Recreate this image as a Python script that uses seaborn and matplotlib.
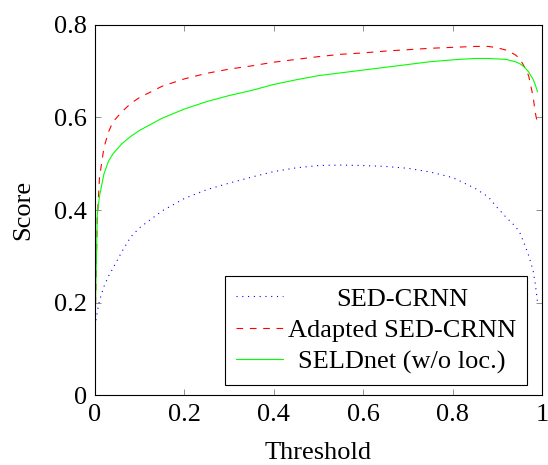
import numpy as np
import pandas as pd
import seaborn as sns
import matplotlib.pyplot as plt

# values
threshold = [0.0, 0.005, 0.01, 0.02, 0.03, 0.04, 0.06, 0.08, 0.1, 0.15, 0.2, 0.25,
             0.3, 0.35, 0.4, 0.45, 0.5, 0.55, 0.6, 0.65, 0.7, 0.75, 0.8, 0.85,
             0.88, 0.9, 0.92, 0.94, 0.95, 0.96, 0.97, 0.98, 0.985, 0.99]
sed_crnn = [0.15, 0.18, 0.205, 0.235, 0.257, 0.274, 0.31, 0.342, 0.362, 0.398, 0.425, 0.444,
            0.458, 0.471, 0.483, 0.491, 0.496, 0.497, 0.496, 0.494, 0.49, 0.482, 0.47, 0.447,
            0.428, 0.405, 0.384, 0.365, 0.352, 0.328, 0.302, 0.27, 0.24, 0.2]
adapted = [0.14, 0.38, 0.47, 0.535, 0.568, 0.59, 0.612, 0.63, 0.643, 0.667, 0.683, 0.695,
           0.704, 0.711, 0.719, 0.725, 0.731, 0.736, 0.739, 0.743, 0.746, 0.749, 0.751, 0.753,
           0.753, 0.75, 0.745, 0.735, 0.727, 0.71, 0.69, 0.645, 0.61, 0.585]
seldnet = [0.14, 0.39, 0.43, 0.478, 0.505, 0.521, 0.543, 0.559, 0.572, 0.598, 0.618, 0.634,
           0.647, 0.658, 0.671, 0.681, 0.69, 0.696, 0.702, 0.708, 0.714, 0.72, 0.724, 0.727,
           0.727, 0.726, 0.725, 0.72, 0.716, 0.709, 0.698, 0.682, 0.67, 0.655]
names = ['SED-CRNN', 'Adapted SED-CRNN', 'SELDnet (w/o loc.)']

df = pd.concat([
    pd.DataFrame({'Threshold': threshold, 'Score': vals, 'Model': name})
    for name, vals in zip(names, [sed_crnn, adapted, seldnet])
])

sns.set_style('ticks')
plt.rcParams['font.family'] = ['Liberation Serif', 'DejaVu Serif']
plt.rcParams['mathtext.fontset'] = 'stix'
for k in ['text.color', 'axes.labelcolor', 'xtick.labelcolor', 'ytick.labelcolor']:
    plt.rcParams[k] = 'black'

fs = 19
fig = plt.figure(figsize=(5.48, 4.65), dpi=100)
ax = fig.add_axes([0.1734, 0.1497, 0.8157, 0.7973])

palette = {'SED-CRNN': (0, 0, 1), 'Adapted SED-CRNN': (1, 0, 0), 'SELDnet (w/o loc.)': (0, 1, 0)}
dashes = {'SED-CRNN': (1, 4.2), 'Adapted SED-CRNN': (6, 6), 'SELDnet (w/o loc.)': ''}
sns.lineplot(data=df, x='Threshold', y='Score', hue='Model', style='Model',
             palette=palette, dashes=dashes, linewidth=0.8, ax=ax, sort=False)

ax.set_xlim(0, 1)
ax.set_ylim(0, 0.8)
ax.set_xticks([0, 0.2, 0.4, 0.6, 0.8, 1])
ax.set_xticklabels(['0', '0.2', '0.4', '0.6', '0.8', '1'])
ax.set_yticks([0, 0.2, 0.4, 0.6, 0.8])
ax.set_yticklabels(['0', '0.2', '0.4', '0.6', '0.8'])
ax.tick_params(direction='in', length=4.5, width=0.6, color='#808080',
               top=True, right=True, labelsize=fs, pad=6)
for s in ax.spines.values():
    s.set_color('black')
    s.set_linewidth(0.8)
ax.set_xlabel('Threshold', fontsize=fs, labelpad=12)
ax.set_ylabel('Score', fontsize=fs, labelpad=14)

leg = ax.legend(loc='lower right', bbox_to_anchor=(0.967, 0.028), borderaxespad=0,
                fontsize=fs, frameon=True, fancybox=False, framealpha=1,
                edgecolor='black', handlelength=1.75, handletextpad=0.2,
                labelspacing=0.3, borderpad=0.42)
leg.get_frame().set_linewidth(0.8)

# center the legend entries like pgfplots does
fig.canvas.draw()
r = fig.canvas.get_renderer()
texts = leg.get_texts()
widths = [t.get_window_extent(r).width for t in texts]
wmax = max(widths)
for t, w in zip(texts, widths):
    t.set_x((wmax - w) / 2)

fig.savefig('out.png', dpi=100)
